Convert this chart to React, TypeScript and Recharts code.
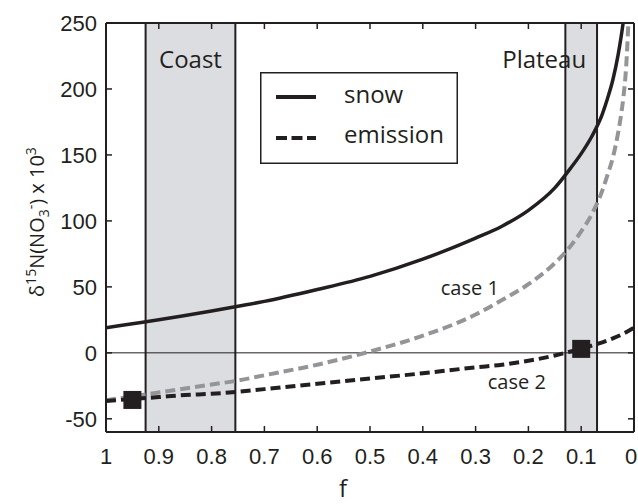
import React from 'react';
import {
  ComposedChart,
  Line,
  Scatter,
  XAxis,
  YAxis,
  ReferenceArea,
  ReferenceLine,
  ReferenceDot,
  Legend,
  Label,
} from 'recharts';

// fraction remaining f (x) and d15N values (y)
const F_SNOW = [1, 0.95, 0.9, 0.85, 0.8, 0.75, 0.7, 0.6, 0.5, 0.4, 0.3, 0.25, 0.2, 0.15, 0.12, 0.1, 0.08, 0.06, 0.05, 0.04, 0.03, 0.025, 0.02, 0.015];
const SNOW = [19, 22, 25, 28.3, 31.7, 35.3, 39, 48, 58, 71, 87, 96, 108, 125, 140, 151, 164, 181, 193, 207, 226, 238, 252, 271];

const F_CASE1 = [1, 0.95, 0.9, 0.85, 0.8, 0.75, 0.7, 0.6, 0.5, 0.4, 0.3, 0.25, 0.2, 0.15, 0.12, 0.1, 0.08, 0.06, 0.05, 0.04, 0.03, 0.025, 0.02, 0.015, 0.01, 0.007];
const CASE1 = [-36, -33, -30, -27, -24, -21, -17, -9, 1, 13, 29, 40, 52, 68, 81, 92, 105, 123, 135, 148, 167, 179, 194, 216, 256, 285];

const F_CASE2 = [1, 0.95, 0.9, 0.85, 0.8, 0.75, 0.7, 0.6, 0.5, 0.4, 0.3, 0.25, 0.2, 0.15, 0.12, 0.1, 0.08, 0.06, 0.04, 0.02, 0];
const CASE2 = [-36.5, -35, -33.5, -32, -31, -29.5, -27.5, -23.5, -19.5, -15.5, -11, -9, -6, -2, 1, 3, 5.5, 8, 11, 14.5, 19];

// measured sites (black squares)
const F_SITES = [0.95, 0.1];
const SITES = [-35.7, 3];

const X_TICKS = [1, 0.9, 0.8, 0.7, 0.6, 0.5, 0.4, 0.3, 0.2, 0.1, 0];
const Y_TICKS = [-50, 0, 50, 100, 150, 200, 250];

const COAST = [0.925, 0.755];
const PLATEAU = [0.13, 0.07];

const LEGEND_ITEMS = [
  { name: 'snow', dash: undefined },
  { name: 'emission', dash: '11 4.5' },
];

const INK = '#231f20';
const GREY_LINE = '#949598';
const BAND = '#dcdde0';
const TEXT_FONT = '"Open Sans", sans-serif';
const TICK_FONT = '"Liberation Sans", Arial, sans-serif';

const zip = (xs: number[], ys: number[]) => xs.map((f, i) => ({ f, v: ys[i] }));

const snowData = zip(F_SNOW, SNOW);
const case1Data = zip(F_CASE1, CASE1);
const case2Data = zip(F_CASE2, CASE2);
const siteData = zip(F_SITES, SITES);

const SquareMark = (props: any) => {
  const { cx, cy } = props;
  return <rect x={cx - 9} y={cy - 9} width={18} height={18} fill={INK} />;
};

// bottom tick labels; the last one ("0") sits against the right edge
const XTick = (props: any) => {
  const { x, y, payload } = props;
  const shift = payload.value === 0 ? -3 : 0;
  return (
    <text x={x + shift} y={y} dy="0.71em" textAnchor="middle" fontSize={22} fill={INK} fontFamily={TICK_FONT}>
      {String(payload.value)}
    </text>
  );
};

const NoTick = () => <g />;

const LegendBox = () => (
  <svg width={198} height={92} style={{ display: 'block' }}>
    <rect x={0.75} y={0.75} width={196.5} height={90.5} fill="#fff" stroke={INK} strokeWidth={1.5} />
    {LEGEND_ITEMS.map((item, i) => (
      <g key={item.name}>
        <line
          x1={16}
          x2={56}
          y1={25 + i * 41}
          y2={25 + i * 41}
          stroke={INK}
          strokeWidth={4}
          strokeDasharray={item.dash}
        />
        <text x={84} y={31 + i * 40} fontSize={24} fill={INK} fontFamily={TEXT_FONT}>
          {item.name}
        </text>
      </g>
    ))}
  </svg>
);

const YLabel = () => (
  <text
    x={44}
    y={222}
    transform="rotate(-90, 44, 222)"
    textAnchor="middle"
    fontSize={20}
    fill={INK}
    fontFamily={TEXT_FONT}
  >
    δ
    <tspan dy={-8} fontSize={14}>15</tspan>
    <tspan dy={8}>N(NO</tspan>
    <tspan dy={5} fontSize={14}>3</tspan>
    <tspan dy={-13} fontSize={14}>-</tspan>
    <tspan dy={8}>) x 10</tspan>
    <tspan dy={-8} fontSize={14}>3</tspan>
  </text>
);

const bandLabel = (text: string, shift: number) => (props: any) => {
  const { viewBox } = props;
  return (
    <text
      x={viewBox.x + viewBox.width / 2 + shift}
      y={viewBox.y + 45}
      textAnchor="middle"
      fontSize={24}
      fill={INK}
      fontFamily={TEXT_FONT}
    >
      {text}
    </text>
  );
};

const noteLabel = (text: string) => (props: any) => {
  const { viewBox } = props;
  return (
    <text
      x={viewBox.x}
      y={viewBox.y + 7}
      textAnchor="middle"
      fontSize={20}
      fill={INK}
      fontFamily={TEXT_FONT}
    >
      {text}
    </text>
  );
};

const tickStyle = { fontSize: 22, fill: INK, fontFamily: TICK_FONT };
const axisLineStyle = { stroke: INK, strokeWidth: 2 };
const tickLineStyle = { stroke: INK, strokeWidth: 1.5 };

export default function App() {
  return (
    <div style={{ position: 'absolute', left: 0, top: 0, width: 638, height: 504, background: '#fff', fontFamily: TEXT_FONT }}>
      <ComposedChart width={638} height={504} margin={{ top: 22, right: 3, bottom: 0, left: 0 }}>
        <ReferenceArea
          x1={COAST[0]}
          x2={COAST[1]}
          y1={-60}
          y2={250}
          fill={BAND}
          fillOpacity={1}
          stroke={INK}
          strokeWidth={2}
          label={bandLabel('Coast', 0)}
        />
        <ReferenceArea
          x1={PLATEAU[0]}
          x2={PLATEAU[1]}
          y1={-60}
          y2={250}
          fill={BAND}
          fillOpacity={1}
          stroke={INK}
          strokeWidth={2}
          label={bandLabel('Plateau', -37)}
        />
        <ReferenceLine y={0} stroke={INK} strokeWidth={1} />
        <XAxis
          dataKey="f"
          type="number"
          domain={[0, 1]}
          reversed
          ticks={X_TICKS}
          interval={0}
          allowDataOverflow
          height={72}
          tickSize={-6}
          tickMargin={22}
          tick={<XTick />}
          axisLine={axisLineStyle}
          tickLine={tickLineStyle}
        >
          <Label
            content={() => (
              <text x={343} y={497} textAnchor="middle" fontSize={24} fill={INK} fontFamily={TEXT_FONT}>
                f
              </text>
            )}
          />
        </XAxis>
        <XAxis
          xAxisId="top"
          orientation="top"
          dataKey="f"
          type="number"
          domain={[0, 1]}
          reversed
          ticks={X_TICKS}
          interval={0}
          allowDataOverflow
          height={1}
          tickSize={-6}
          tick={<NoTick />}
          axisLine={axisLineStyle}
          tickLine={tickLineStyle}
        />
        <YAxis
          type="number"
          domain={[-60, 250]}
          ticks={Y_TICKS}
          interval={0}
          allowDataOverflow
          width={106}
          tickSize={-6}
          tickMargin={15}
          tick={tickStyle}
          axisLine={axisLineStyle}
          tickLine={tickLineStyle}
        >
          <Label content={() => <YLabel />} />
        </YAxis>
        <YAxis
          yAxisId="right"
          orientation="right"
          type="number"
          domain={[-60, 250]}
          ticks={Y_TICKS}
          interval={0}
          allowDataOverflow
          width={1}
          tickSize={-6}
          tick={<NoTick />}
          axisLine={axisLineStyle}
          tickLine={tickLineStyle}
        />
        <Line
          data={snowData}
          dataKey="v"
          name="snow"
          type="monotone"
          stroke={INK}
          strokeWidth={3.5}
          dot={false}
          activeDot={false}
          isAnimationActive={false}
        />
        <Line
          data={case1Data}
          dataKey="v"
          name="case 1"
          type="monotone"
          stroke={GREY_LINE}
          strokeWidth={4}
          strokeDasharray="10 5"
          dot={false}
          activeDot={false}
          isAnimationActive={false}
        />
        <Line
          data={case2Data}
          dataKey="v"
          name="emission"
          type="monotone"
          stroke={INK}
          strokeWidth={4}
          strokeDasharray="10 5"
          dot={false}
          activeDot={false}
          isAnimationActive={false}
        />
        <Scatter
          data={siteData}
          dataKey="v"
          xAxisId="top"
          yAxisId="right"
          shape={<SquareMark />}
          isAnimationActive={false}
        />
        <ReferenceDot x={0.311} y={49} r={0} fill="none" stroke="none" label={noteLabel('case 1')} />
        <ReferenceDot x={0.222} y={-22} r={0} fill="none" stroke="none" label={noteLabel('case 2')} />
        <Legend
          layout="horizontal"
          verticalAlign="middle"
          align="center"
          wrapperStyle={{ position: 'absolute', left: 260, top: 72, width: 198, height: 92 }}
          content={() => <LegendBox />}
        />
      </ComposedChart>
    </div>
  );
}
